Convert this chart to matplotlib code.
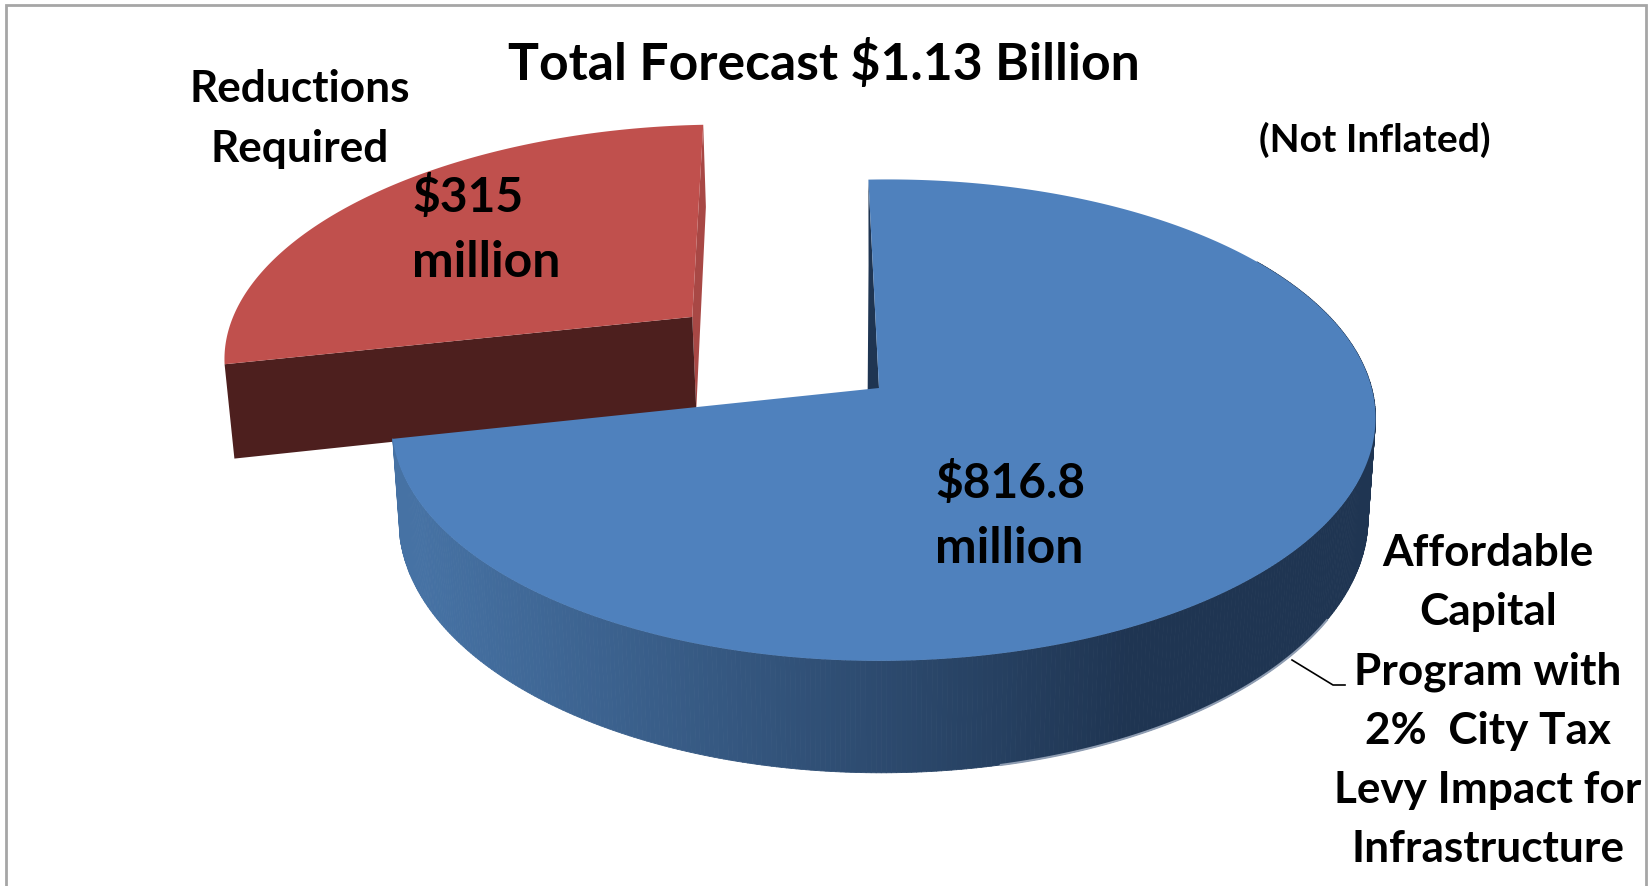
import numpy as np
import matplotlib
matplotlib.use("Agg")
import matplotlib.pyplot as plt
from matplotlib.collections import PolyCollection
from matplotlib.colors import to_rgb
from matplotlib.patches import Polygon, Rectangle

# forecast split, $ million
labels = ["Affordable Capital Program", "Reductions Required"]
values = [816.8, 315]
top_colors = ["#4F81BD", "#C0504D"]
cut_colors = ["#1F3552", "#A84845"]
front_color = "#4D1F1E"
rim_left = "#4672A4"
rim_right = "#1F3552"

title = "Total Forecast $1.13 Billion"
note = "(Not Inflated)"
red_lines = ["Reductions", "Required"]
blue_lines = ["Affordable", "Capital", "Program with", "2%  City Tax", "Levy Impact for", "Infrastructure"]

# pie plane -> pixels, simple perspective
cx, cy = 879.0, 388.0
A, B, C = 487.5, 236.4, -5.0
p, q = 0.1335, 0.0105
depth = 97.0
start = -2.0
explode = 0.512
shrink = 0.985


def project(u, v):
    w = 1 - p*v - q*u
    return cx + (A*u + C*v)/w, cy + B*v/w, w


def lower(x, y, w):
    return cx + (x - cx)*shrink, y + depth/w


def plane(theta, r=1.0, u0=0.0, v0=0.0):
    t = np.radians(theta)
    return u0 + r*np.sin(t), v0 - r*np.cos(t)


fig = plt.figure(figsize=(16.52, 8.86), dpi=100)
ax = fig.add_axes([0, 0, 1, 1])
ax.set_xlim(0, 1652)
ax.set_ylim(886, 0)
ax.axis("off")
plt.rcParams["font.family"] = ["Lato", "DejaVu Sans"]

ax.add_patch(Rectangle((6, 5), 1640, 1000, fc="white", ec="#A6A6A6", lw=2, zorder=0))

total = sum(values)
sweep = [360*val/total for val in values]
blue_end = start + sweep[0]
red_end = blue_end + sweep[1]

# exploded red slice, drawn first because the blue one sits over it
mid = np.radians((blue_end + red_end)/2)
u0, v0 = explode*np.sin(mid), -explode*np.cos(mid)
th = np.linspace(blue_end, red_end, 200)
u, v = plane(th, 1.0, u0, v0)
x, y, w = project(u, v)
ax0, ay0, aw0 = project(u0, v0)
lx0, ly0 = ax0 + 4, ay0 + depth/aw0
lx, ly = lower(x, y, w)
ax.add_patch(Polygon([[x[-1], y[-1]], [ax0, ay0], [lx0, ly0], [lx[-1], ly[-1]]], fc=cut_colors[1], ec="none", zorder=2))
ax.add_patch(Polygon([[x[0], y[0]], [ax0, ay0], [lx0, ly0], [lx[0], ly[0]]], fc=front_color, ec="none", zorder=3))
ax.add_patch(Polygon(np.r_[np.c_[x, y], [[ax0, ay0]]], fc=top_colors[1], ec="none", zorder=4))

# blue slice
bx0, by0, bw0 = project(0, 0)
th = np.linspace(start, blue_end, 500)
u, v = plane(th)
x, y, w = project(u, v)
lx, ly = lower(x, y, w)

# back cut face, only a sliver of it shows
ax.add_patch(Polygon([[x[0], y[0]], [bx0, by0], [bx0 - 12, by0 + depth/bw0], [lx[0], ly[0]]],
                     fc=cut_colors[0], ec="none", zorder=5))

# rim with the left to right shading
keep = th > 55
quads = []
cols = []
c0 = np.array(to_rgb(rim_left))
c1 = np.array(to_rgb(rim_right))
xk, yk, lxk, lyk = x[keep], y[keep], lx[keep], ly[keep]
for i in range(len(xk) - 1):
    quads.append([[xk[i], yk[i]], [xk[i+1], yk[i+1]], [lxk[i+1], lyk[i+1]], [lxk[i], lyk[i]]])
    f = np.clip((1130 - xk[i])/(1130 - 420), 0, 1)
    cols.append(tuple(c1 + (c0 - c1)*f))
ax.add_collection(PolyCollection(quads, facecolors=cols, edgecolors=cols, linewidths=0.6, zorder=6))

# pale fringe on the lower right of the rim
fringe = (lxk > 1000) & (lxk < 1340) & (lyk > 620)
ax.plot(lxk[fringe], lyk[fringe], color="#8F9DB2", lw=1.5, zorder=6)

ax.add_patch(Polygon(np.r_[np.c_[x, y], [[bx0, by0]]], fc=top_colors[0], ec="none", zorder=7))

# leader line to the label
ax.plot([1292, 1333, 1345], [660, 685, 685], color="black", lw=1.2, zorder=8)

# text
ax.text(824, 80, title, fontsize=37.2, fontweight="bold", ha="center", va="baseline", zorder=9)
ax.text(1375, 152, note, fontsize=28, fontweight="bold", ha="center", va="baseline", zorder=9)
for i, line in enumerate(red_lines):
    ax.text(300, 102 + 60*i, line, fontsize=31.8, fontweight="bold", ha="center", va="baseline", zorder=9)
for i, line in enumerate(blue_lines):
    ax.text(1488, 566 + 59.3*i, line, fontsize=31.8, fontweight="bold", ha="center", va="baseline", zorder=9)
for val, x0, y0 in zip(values, [935, 412], [498, 212]):
    ax.text(x0, y0, f"${val:g}", fontsize=34.5, fontweight="bold", ha="left", va="baseline", zorder=9)
    ax.text(x0, y0 + 65, "million", fontsize=36, fontweight="bold", ha="left", va="baseline", zorder=9)

fig.savefig("out.png", dpi=100)
